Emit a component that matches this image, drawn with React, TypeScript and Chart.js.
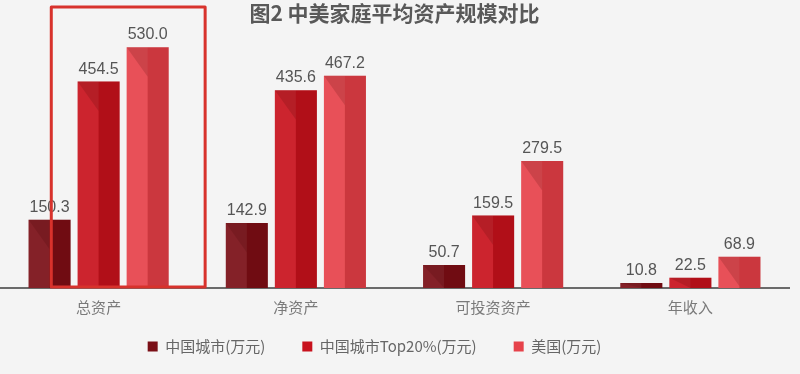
import React, { useEffect, useRef } from "react";
import { Chart, registerables } from "chart.js";

Chart.register(...registerables);

const categories = ["总资产", "净资产", "可投资资产", "年收入"];
const chinaCity = [150.3, 142.9, 50.7, 10.8];
const chinaTop20 = [454.5, 435.6, 159.5, 22.5];
const usa = [530.0, 467.2, 279.5, 68.9];
const seriesNames = ["中国城市(万元)", "中国城市Top20%(万元)", "美国(万元)"];
const seriesColors = ["#7a0f16", "#c8121d", "#e6424a"];
const titleText = "图2 中美家庭平均资产规模对比";

const barShade = {
  id: "barShade",
  afterDatasetsDraw(chart: any) {
    const ctx = chart.ctx;
    ctx.save();
    chart.data.datasets.forEach((ds: any, di: number) => {
      const meta = chart.getDatasetMeta(di);
      meta.data.forEach((el: any) => {
        const w = el.width;
        const left = el.x - w / 2;
        const right = el.x + w / 2;
        const top = Math.min(el.y, el.base);
        const base = Math.max(el.y, el.base);
        const h = base - top;
        ctx.fillStyle = "rgba(255,255,255,0.08)";
        ctx.fillRect(left, top, w / 2, h);
        const d = Math.min(w * 0.7, h);
        ctx.beginPath();
        ctx.moveTo(left, top);
        ctx.lineTo(right, top);
        ctx.lineTo(right, base);
        ctx.lineTo(el.x, base);
        ctx.lineTo(el.x, top + d);
        ctx.closePath();
        ctx.fillStyle = "rgba(60,0,0,0.16)";
        ctx.fill();
      });
    });
    ctx.font = '16px "Liberation Sans", Arial, sans-serif';
    ctx.fillStyle = "#555555";
    ctx.textAlign = "center";
    ctx.textBaseline = "alphabetic";
    chart.data.datasets.forEach((ds: any, di: number) => {
      const meta = chart.getDatasetMeta(di);
      meta.data.forEach((el: any, i: number) => {
        ctx.fillText(Number(ds.data[i]).toFixed(1), el.x, el.y - 8);
      });
    });
    const xs = chart.scales.x;
    const area = chart.chartArea;
    const catW = area.width / categories.length;
    const c0 = xs.getPixelForValue(0);
    const bl = c0 - 0.24 * catW;
    const br = c0 + 0.54 * catW;
    ctx.strokeStyle = "#d8322c";
    ctx.lineWidth = 3;
    ctx.lineJoin = "round";
    ctx.beginPath();
    ctx.rect(bl, 7, br - bl, area.bottom - 8);
    ctx.stroke();
    ctx.restore();
  },
};

const layoutTweak = {
  id: "layoutTweak",
  afterLayout(chart: any) {
    const lg = chart.legend;
    if (lg) {
      lg.left -= 20;
      lg.right -= 20;
    }
    const xs = chart.scales.x;
    if (xs) {
      xs.bottom = xs.top + 45;
    }
  },
};

export default function App() {
  const ref = useRef<HTMLCanvasElement>(null);
  useEffect(() => {
    if (!ref.current) return;
    const chart = new Chart(ref.current, {
      type: "bar",
      data: {
        labels: categories,
        datasets: [chinaCity, chinaTop20, usa].map((d, i) => ({
          label: seriesNames[i],
          data: d,
          backgroundColor: seriesColors[i],
          borderWidth: 0,
          categoryPercentage: 0.746,
          barPercentage: 0.857,
        })),
      },
      options: {
        responsive: false,
        maintainAspectRatio: false,
        animation: false,
        layout: { padding: { left: 0, right: 11, top: 0, bottom: 10 } },
        scales: {
          x: {
            grid: { display: false, drawTicks: false },
            border: { display: true, color: "#6a6a6a", width: 2 },
            ticks: {
              padding: 10,
              color: "#7a7a7a",
              font: { size: 15, family: '"Noto Sans CJK SC", sans-serif' },
            },
            afterFit: (scale: any) => {
              scale.height = 14;
            },
          },
          y: {
            display: false,
            min: 0,
            max: 550,
          },
        },
        plugins: {
          title: {
            display: true,
            text: titleText,
            color: "#595959",
            font: { size: 21, weight: "bold", family: '"Noto Sans CJK SC", sans-serif' },
            padding: { top: 0, bottom: 13 },
          },
          legend: {
            display: true,
            position: "bottom",
            labels: {
              boxWidth: 10,
              boxHeight: 10,
              padding: 37,
              color: "#666666",
              font: { size: 15, family: '"Noto Sans CJK SC", sans-serif' },
            },
          },
          tooltip: { enabled: false },
        },
      },
      plugins: [barShade, layoutTweak],
    });
    return () => chart.destroy();
  }, []);
  return (
    <div
      style={{
        position: "fixed",
        left: 0,
        top: 0,
        width: 800,
        height: 374,
        background: "#f4f4f4",
      }}
    >
      <canvas ref={ref} width={800} height={374} style={{ display: "block" }} />
    </div>
  );
}
